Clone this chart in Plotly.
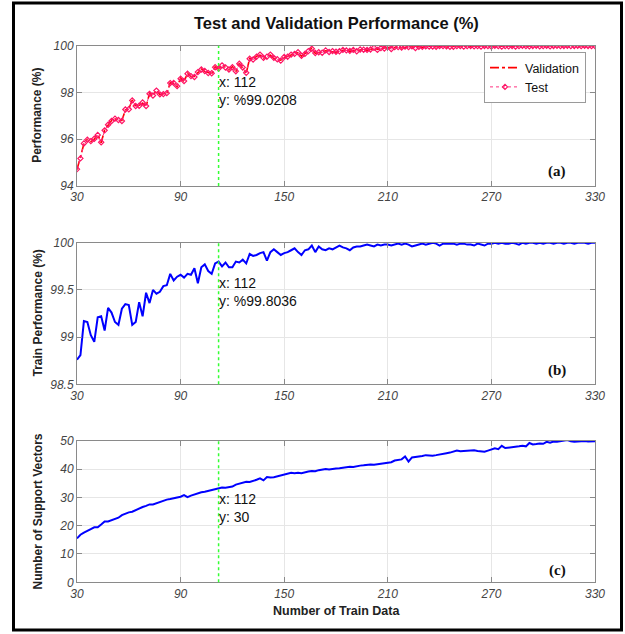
import plotly.graph_objects as go

# ---------------- data ----------------
train_data = list(range(30, 331, 2))

validation_perf = [
    94.70, 95.20, 95.80, 96.00, 95.90, 96.00, 96.20, 95.85, 96.40, 96.60,
    96.80, 96.87, 96.80, 96.80, 97.25, 97.30, 97.68, 97.40, 97.45, 97.55,
    97.40, 97.96, 97.85, 98.10, 97.90, 97.95, 97.95, 98.42, 98.39, 98.25,
    98.61, 98.47, 98.82, 98.68, 98.68, 98.85, 99.00, 98.90, 98.85, 98.80,
    99.10, 99.02, 99.18, 99.05, 98.96, 99.10, 98.89, 99.25, 99.05, 98.82,
    99.46, 99.39, 99.55, 99.60, 99.46, 99.55, 99.60, 99.46, 99.40, 99.38,
    99.50, 99.55, 99.60, 99.67, 99.70, 99.55, 99.67, 99.75, 99.89, 99.67,
    99.70, 99.72, 99.78, 99.75, 99.75, 99.72, 99.78, 99.80, 99.82, 99.76,
    99.80, 99.78, 99.82, 99.85, 99.80, 99.86, 99.89, 99.84, 99.88, 99.90,
    99.93, 99.88, 99.92, 99.96, 99.90, 99.94, 99.96, 99.95, 99.92, 99.97,
    99.93, 99.95, 99.98, 99.94, 99.97, 99.96, 100.0, 99.95, 99.93, 99.97,
    100.0, 99.96, 99.98, 100.0, 99.97, 99.99, 100.0, 99.98, 99.97, 100.0,
    99.98, 99.99, 100.0, 99.98, 100.0, 99.99, 100.0, 99.98, 100.0, 99.99,
    100.0, 99.99, 100.0, 100.0, 99.98, 100.0, 99.99, 100.0, 100.0, 99.99,
    100.0, 100.0, 99.99, 100.0, 100.0, 99.99, 100.0, 100.0, 100.0, 99.99,
    100.0,
]

test_perf = [
    94.72, 95.18, 95.82, 95.98, 95.92, 96.02, 96.18, 95.87, 96.38, 96.62,
    96.78, 96.88, 96.82, 96.78, 97.27, 97.28, 97.66, 97.42, 97.43, 97.57,
    97.42, 97.94, 97.87, 98.08, 97.92, 97.93, 97.97, 98.40, 98.41, 98.27,
    98.59, 98.49, 98.80, 98.70, 98.66, 98.87, 98.98, 98.92, 98.83, 98.82,
    99.08, 99.02, 99.16, 99.07, 98.98, 99.08, 98.91, 99.23, 99.07, 98.84,
    99.44, 99.41, 99.53, 99.62, 99.48, 99.53, 99.62, 99.48, 99.42, 99.36,
    99.52, 99.53, 99.62, 99.65, 99.72, 99.57, 99.65, 99.77, 99.87, 99.69,
    99.72, 99.70, 99.80, 99.73, 99.77, 99.74, 99.76, 99.82, 99.80, 99.78,
    99.82, 99.76, 99.84, 99.83, 99.82, 99.84, 99.91, 99.82, 99.90, 99.88,
    99.95, 99.86, 99.94, 99.94, 99.92, 99.96, 99.94, 99.97, 99.90, 99.95,
    99.95, 99.97, 99.96, 99.96, 99.95, 99.98, 99.98, 99.97, 99.95, 99.95,
    99.98, 99.98, 99.96, 99.98, 99.99, 99.97, 99.98, 99.96, 99.99, 99.98,
    99.96, 100.0, 99.98, 99.96, 99.98, 99.97, 99.99, 99.96, 99.98, 100.0,
    99.98, 99.97, 99.99, 100.0, 99.97, 99.98, 100.0, 99.97, 99.99, 100.0,
    99.98, 99.99, 100.0, 99.98, 99.99, 100.0, 99.98, 100.0, 99.99, 99.98,
    99.99,
]

train_perf = [
    98.76, 98.81, 99.17, 99.16, 99.02, 98.95, 99.21, 99.22, 99.07, 99.31,
    99.26, 99.16, 99.13, 99.30, 99.35, 99.34, 99.13, 99.16, 99.37, 99.22,
    99.47, 99.36, 99.50, 99.46, 99.48, 99.54, 99.55, 99.67, 99.60, 99.64,
    99.66, 99.63, 99.67, 99.66, 99.73, 99.57, 99.74, 99.77, 99.70, 99.67,
    99.78, 99.80, 99.75, 99.79, 99.74, 99.74, 99.80, 99.79, 99.82, 99.78,
    99.88, 99.86, 99.87, 99.89, 99.90, 99.81, 99.90, 99.93, 99.90, 99.87,
    99.89, 99.90, 99.92, 99.94, 99.90, 99.87, 99.92, 99.93, 99.97, 99.90,
    99.96, 99.93, 99.92, 99.94, 99.93, 99.95, 99.97, 99.95, 99.94, 99.92,
    99.95, 99.96, 99.96, 99.97, 99.98, 99.97, 99.96, 99.98, 99.97, 99.98,
    99.98, 99.97, 99.98, 99.99, 99.98, 99.99, 99.98, 99.96, 99.97, 99.98,
    99.99, 99.98, 99.99, 100.0, 99.99, 99.97, 99.99, 99.99, 99.99, 99.99,
    99.98, 99.99, 99.99, 99.98, 99.98, 99.97, 99.99, 99.98, 99.97, 99.99,
    99.99, 100.0, 99.99, 100.0, 99.99, 99.99, 100.0, 99.99, 99.98, 100.0,
    99.99, 100.0, 100.0, 99.99, 100.0, 99.99, 100.0, 100.0, 99.99, 100.0,
    100.0, 99.99, 100.0, 100.0, 99.99, 100.0, 100.0, 100.0, 99.99, 100.0,
    100.0,
]

support_vectors = [
    15.5, 16.8, 17.5, 18.3, 18.8, 19.4, 19.4, 20.4, 21.5, 21.5,
    21.9, 22.3, 22.8, 23.7, 24.3, 24.7, 24.9, 25.5, 26.0, 26.6,
    27.0, 27.5, 27.5, 27.9, 28.5, 28.9, 29.2, 29.4, 29.7, 30.1,
    30.2, 30.8, 30.1, 30.6, 31.0, 31.5, 31.8, 32.0, 32.3, 32.6,
    33.0, 33.3, 33.5, 33.4, 33.5, 33.8, 34.5, 34.8, 35.0, 35.5,
    35.4, 35.7, 36.2, 36.7, 36.0, 37.2, 37.0, 37.1, 37.4, 37.6,
    38.0, 38.3, 38.7, 38.5, 38.7, 38.5, 38.9, 39.1, 39.3, 39.2,
    39.6, 39.7, 40.0, 39.8, 40.1, 40.2, 40.3, 40.5, 40.6, 40.8,
    40.7, 41.0, 41.2, 41.3, 41.5, 41.6, 41.5, 41.7, 42.0, 42.2,
    42.2, 42.4, 43.0, 43.2, 43.4, 44.4, 42.6, 44.1, 44.2, 44.3,
    44.6, 44.9, 44.8, 44.7, 44.9, 45.2, 45.3, 45.6, 45.8, 46.2,
    46.5, 46.3, 46.4, 46.6, 46.7, 46.6, 46.4, 46.2, 46.1, 46.5,
    46.8, 47.3, 47.0, 48.2, 47.4, 47.5, 47.6, 47.8, 48.0, 48.2,
    48.0, 49.2, 48.7, 48.8, 49.0, 48.9, 49.6, 49.3, 49.7, 49.6,
    49.8, 49.9, 50.2, 49.8, 49.6, 49.7, 49.8, 49.9, 49.7, 49.8,
    49.8,
]

x_ticks = [30, 90, 150, 210, 270, 330]
y_ticks_a = [94, 96, 98, 100]
y_ticks_b = [98.5, 99, 99.5, 100]
y_ticks_c = [0, 10, 20, 30, 40, 50]
y_tick_text_b = ["98.5", "99", "99.5", "100"]

datatip_x = 112
datatip_texts = ["x: 112<br>y: %99.0208", "x: 112<br>y: %99.8036", "x: 112<br>y: 30"]
panel_tags = ["(a)", "(b)", "(c)"]
y_titles = ["Performance (%)", "Train Performance (%)", "Number of Support Vectors"]

# ---------------- layout geometry ----------------
W, H = 625, 634
def px_x(p):
    return p / W
def px_y(p):
    return 1 - p / H

x_dom = [px_x(77), px_x(595)]
dom_a = [px_y(186), px_y(45.7)]
dom_b = [px_y(384.3), px_y(242.7)]
dom_c = [px_y(582.3), px_y(440.7)]

FONT = "Liberation Sans, Arial, sans-serif"
AX_COL = "#8a8a8a"
GRID_COL = "#e6e6e6"
TICK_FONT = dict(family=FONT, size=12, color="#444444", style="italic")

fig = go.Figure()

fig.add_trace(go.Scatter(
    x=train_data, y=validation_perf, name="Validation", mode="lines",
    line=dict(color="#ff0000", width=1.6, dash="dashdot"),
    xaxis="x", yaxis="y"))
fig.add_trace(go.Scatter(
    x=train_data, y=test_perf, name="Test", mode="lines+markers",
    line=dict(color="#ff3380", width=1, dash="dot"),
    marker=dict(symbol="diamond-open", size=4, color="#ff1466", line=dict(width=1.2)),
    xaxis="x", yaxis="y"))
fig.add_trace(go.Scatter(
    x=train_data, y=train_perf, mode="lines", showlegend=False,
    line=dict(color="#0000ff", width=2), xaxis="x2", yaxis="y2"))
fig.add_trace(go.Scatter(
    x=train_data, y=support_vectors, mode="lines", showlegend=False,
    line=dict(color="#0000ff", width=2), xaxis="x3", yaxis="y3"))

def xaxis(anchor):
    return dict(domain=x_dom, anchor=anchor, range=[30, 330], tickvals=x_ticks,
                showgrid=True, gridcolor=GRID_COL, gridwidth=1,
                showline=True, linecolor=AX_COL, linewidth=1, mirror="ticks",
                ticks="inside", ticklen=5, tickcolor=AX_COL,
                tickfont=TICK_FONT, zeroline=False, fixedrange=True,
                automargin=False)

def yaxis(anchor, dom, rng, tv, tt=None):
    d = dict(domain=dom, anchor=anchor, range=rng, tickvals=tv,
             showgrid=True, gridcolor=GRID_COL, gridwidth=1,
             showline=True, linecolor=AX_COL, linewidth=1, mirror="ticks",
             ticks="inside", ticklen=5, tickcolor=AX_COL,
             tickfont=TICK_FONT, zeroline=False, fixedrange=True,
             automargin=False)
    if tt is not None:
        d["ticktext"] = tt
    return d

shapes = []
annotations = []
doms = [dom_a, dom_b, dom_c]
for i, (xr, yr) in enumerate([("x", "y"), ("x2", "y2"), ("x3", "y3")]):
    shapes.append(dict(type="line", xref=xr, yref=yr + " domain",
                       x0=datatip_x, x1=datatip_x, y0=0, y1=1,
                       line=dict(color="#33ff33", width=1.5, dash="3px,3px")))
mids = [0.678, 0.654, 0.528]
for i, (xr, yr) in enumerate([("x", "y"), ("x2", "y2"), ("x3", "y3")]):
    annotations.append(dict(xref=xr, yref=yr + " domain", x=datatip_x, y=mids[i],
                            text=datatip_texts[i], showarrow=False, xanchor="left",
                            yanchor="middle", align="left", xshift=-2,
                            font=dict(family=FONT, size=14, color="#111111")))
    annotations.append(dict(xref="paper", yref=yr + " domain", x=px_x(557),
                            y=[0.1, 0.1, 0.082][i], text="<b>" + panel_tags[i] + "</b>",
                            showarrow=False, xanchor="center", yanchor="middle",
                            font=dict(family="Liberation Serif, Times New Roman, serif",
                                      size=15, color="#111111")))
    dom = doms[i]
    annotations.append(dict(xref="paper", yref="paper", x=px_x(37),
                            y=(dom[0] + dom[1]) / 2, text="<b>" + y_titles[i] + "</b>",
                            textangle=-90, showarrow=False, xanchor="center",
                            yanchor="middle",
                            font=dict(family=FONT, size=12, color="#222222")))

annotations.append(dict(xref="paper", yref="paper", x=px_x(336), y=px_y(23.5),
                        text="<b>Test and Validation Performance (%)</b>",
                        showarrow=False, xanchor="center", yanchor="middle",
                        font=dict(family=FONT, size=16.5, color="#111111")))
annotations.append(dict(xref="paper", yref="paper", x=px_x(336), y=px_y(611),
                        text="<b>Number of Train Data</b>",
                        showarrow=False, xanchor="center", yanchor="middle",
                        font=dict(family=FONT, size=12.5, color="#222222")))

# outer black frame
shapes.append(dict(type="rect", xref="paper", yref="paper",
                   x0=px_x(13.5), x1=px_x(621.5), y0=px_y(630), y1=px_y(3),
                   line=dict(color="#000000", width=3), fillcolor="rgba(0,0,0,0)"))

fig.update_layout(
    width=W, height=H, autosize=False,
    margin=dict(l=0, r=0, t=0, b=0, pad=0),
    paper_bgcolor="white", plot_bgcolor="white",
    xaxis=xaxis("y"), yaxis=yaxis("x", dom_a, [94, 100], y_ticks_a),
    xaxis2=xaxis("y2"), yaxis2=yaxis("x2", dom_b, [98.5, 100], y_ticks_b, y_tick_text_b),
    xaxis3=xaxis("y3"), yaxis3=yaxis("x3", dom_c, [0, 50], y_ticks_c),
    shapes=shapes, annotations=annotations,
    showlegend=True,
    legend=dict(x=px_x(586), y=px_y(52), xanchor="right", yanchor="top",
                bgcolor="white", bordercolor="#9a9a9a", borderwidth=1,
                font=dict(family=FONT, size=12.5, color="#111111"),
                tracegroupgap=0, itemwidth=30),
)

fig.write_html("out.html",
               config={"displayModeBar": False},
               post_script="document.body.style.margin='0';document.body.style.overflow='hidden';")
